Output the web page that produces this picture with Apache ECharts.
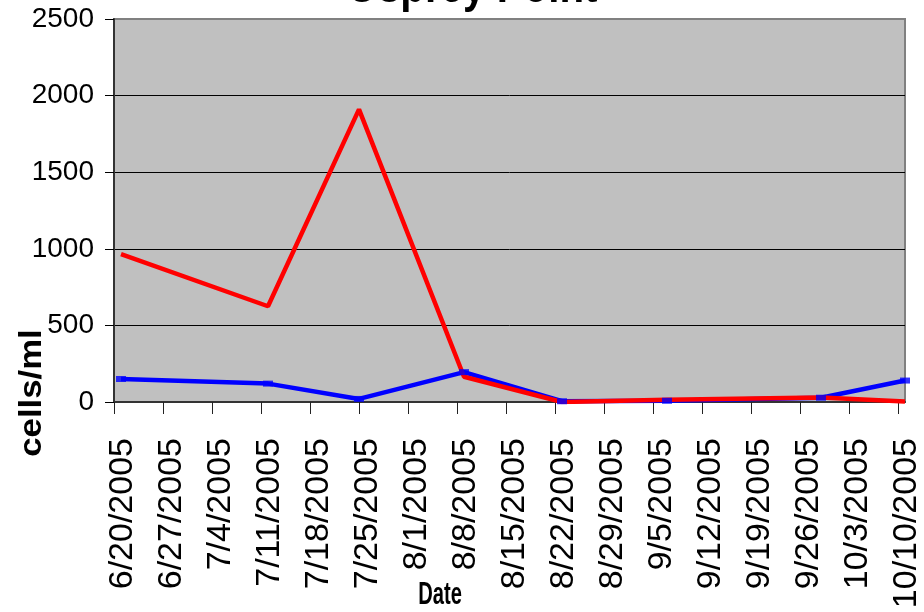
<!DOCTYPE html>
<html>
<head>
<meta charset="utf-8">
<script src="https://cdn.jsdelivr.net/npm/echarts@6/dist/echarts.min.js"></script>
<style>html,body{margin:0;padding:0;background:#fff}#c{width:924px;height:612px}</style>
</head>
<body>
<div id="c"></div>
<script>
// ---- data ----
var titleText = 'Osprey Point';
var yAxisTitle = 'cells/ml';
var xAxisTitle = 'Date';
var axisStart = '2005-06-20';
var axisEnd = '2005-10-11';
var tickDates = ['6/20/2005','6/27/2005','7/4/2005','7/11/2005','7/18/2005','7/25/2005','8/1/2005','8/8/2005','8/15/2005','8/22/2005','8/29/2005','9/5/2005','9/12/2005','9/19/2005','9/26/2005','10/3/2005','10/10/2005'];
var sampleDates = ['2005-06-21','2005-07-12','2005-07-25','2005-08-09','2005-08-23','2005-09-07','2005-09-29','2005-10-11'];
var redValues = [965, 625, 1910, 165, 0, 15, 30, 3];
var blueValues = [150, 120, 20, 195, 5, 8, 28, 140];
var yTicks = [0, 500, 1000, 1500, 2000, 2500];

// ---- helpers ----
var DAY = 86400000;
var SANS = '"Liberation Sans", Arial, sans-serif';
function parseISO(s){ var p = s.split('-'); return Date.UTC(+p[0], +p[1]-1, +p[2]); }
function parseMDY(s){ var p = s.split('/'); return Date.UTC(+p[2], +p[0]-1, +p[1]); }
var t0 = parseISO(axisStart);
function dayOf(ms){ return Math.round((ms - t0) / DAY); }
var tickDays = tickDates.map(function(s){ return dayOf(parseMDY(s)); });
var labelByDay = {};
tickDates.forEach(function(s, i){ labelByDay[tickDays[i]] = s; });
var redData = sampleDates.map(function(d, i){ return [dayOf(parseISO(d)), redValues[i]]; });
var blueData = sampleDates.map(function(d, i){ return [dayOf(parseISO(d)), blueValues[i]]; });

var chart = echarts.init(document.getElementById('c'));
chart.setOption({
  animation: false,
  grid: { left: 114, right: 19, top: 19, bottom: 210, outerBoundsMode: 'none', containLabel: false, show: true, backgroundColor: '#C0C0C0', borderColor: '#808080', borderWidth: 2 },
  graphic: [
    { type: 'text', x: 472, y: -11, scaleX: 0.84, z: 100, style: { text: titleText, font: 'bold 48px ' + SANS, fill: '#000', textAlign: 'center', textVerticalAlign: 'middle' } },
    { type: 'text', x: 32, y: 393, rotation: Math.PI/2, scaleX: 1.12, z: 100, style: { text: yAxisTitle, font: 'bold 31px ' + SANS, fill: '#000', textAlign: 'center', textVerticalAlign: 'middle' } },
    { type: 'text', x: 440, y: 595, scaleX: 0.63, z: 100, style: { text: xAxisTitle, font: 'bold 32px ' + SANS, fill: '#000', textAlign: 'center', textVerticalAlign: 'middle' } }
  ],
  xAxis: {
    type: 'value', min: 0, max: dayOf(parseISO(axisEnd)),
    axisLine: { show: true, lineStyle: { color: '#333', width: 2 } },
    axisTick: { show: true, inside: false, length: 12, customValues: tickDays, lineStyle: { color: '#222', width: 1 } },
    axisLabel: { show: true, customValues: tickDays, rotate: 90, margin: 36, verticalAlign: 'top', lineHeight: 18, fontFamily: SANS, fontSize: 34, color: '#000',
      formatter: function(v){ return labelByDay[v] || ''; } },
    splitLine: { show: false }
  },
  yAxis: {
    type: 'value', min: yTicks[0], max: yTicks[yTicks.length-1], interval: yTicks[1]-yTicks[0],
    axisLine: { show: true, lineStyle: { color: '#333', width: 2 } },
    axisTick: { show: true, inside: false, length: 9, lineStyle: { color: '#000', width: 1 } },
    axisLabel: { margin: 20, fontFamily: SANS, fontSize: 28, color: '#000', formatter: function(v){ return String(v); } },
    splitLine: { show: true, showMinLine: false, showMaxLine: false, lineStyle: { color: '#000', width: 1 } }
  },
  series: [
    { type: 'line', data: blueData, z: 2, showSymbol: false, symbol: 'none', lineStyle: { color: '#0000FF', width: 4.5 }, silent: true },
    { type: 'line', data: redData, z: 3, showSymbol: false, symbol: 'none', lineStyle: { color: '#FF0000', width: 4.5 }, silent: true },
    { type: 'scatter', data: blueData, z: 4, symbol: 'rect', symbolSize: [10, 6], itemStyle: { color: '#0000FF' }, silent: true }
  ]
});
</script>
</body>
</html>
